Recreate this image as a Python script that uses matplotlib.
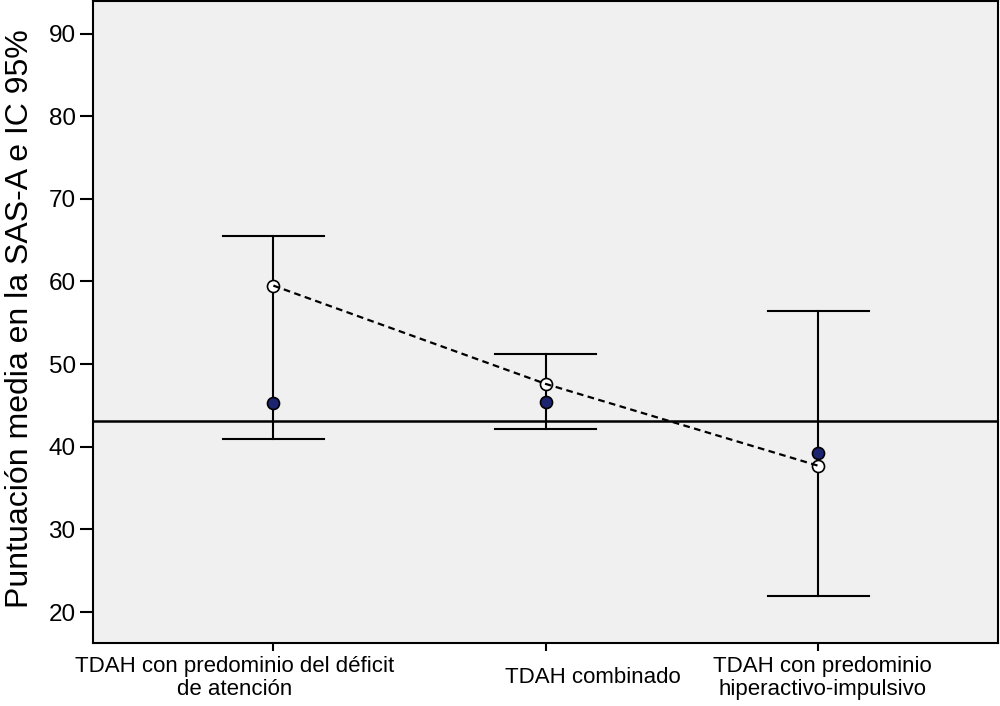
import matplotlib
matplotlib.use("Agg")
import matplotlib.pyplot as plt
import matplotlib.transforms as mtransforms
import numpy as np

categories = ["TDAH con predominio del déficit\nde atención", "TDAH combinado",
              "TDAH con predominio\nhiperactivo-impulsivo"]
means = [59.5, 47.6, 37.7]
ci_low = [40.9, 42.2, 22.0]
ci_high = [65.5, 51.2, 56.4]
other_points = [45.3, 45.4, 39.2]
ref_line = 43.1
yticks = [20, 30, 40, 50, 60, 70, 80, 90]

plt.rcParams['font.family'] = ['Liberation Sans', 'DejaVu Sans']

fig = plt.figure(figsize=(10, 7.06), dpi=100)
ax = fig.add_axes([0.093, 0.0892, 0.905, 0.909])
ax.set_facecolor('#f0f0f0')

x = np.arange(len(categories))
cap = 0.185
for xi, lo, hi in zip(x, ci_low, ci_high):
    ax.plot([xi, xi], [lo, hi], color='black', lw=1.5, zorder=2)
    ax.plot([xi - cap, xi + cap], [lo, lo], color='black', lw=1.5, zorder=2)
    ax.plot([xi - cap, xi + cap], [hi, hi], color='black', lw=1.5, zorder=2)

ax.axhline(ref_line, color='black', lw=1.8, zorder=2)

ax.scatter(x, other_points, s=75, color='#1c2470', edgecolor='black', linewidth=1.2, zorder=3)
ax.scatter(x, means, s=75, color='white', edgecolor='black', linewidth=1.2, zorder=3)
ax.plot(x, means, color='black', lw=1.6, ls=(0, (3, 2)), zorder=4)

ax.set_xlim(-0.662, 2.66)
ax.set_ylim(16.25, 93.9)
ax.set_yticks(yticks)
ax.set_xticks(x)
ax.set_xticklabels(categories, fontsize=16)
ax.tick_params(axis='y', labelsize=17.5, length=9.5, width=1.5, direction='out', pad=3)
ax.tick_params(axis='x', length=6, width=1.5, direction='out', pad=19)
shifts_px = [-38.5, 47, 4]
for lbl, dx in zip(ax.get_xticklabels(), shifts_px):
    lbl.set_va('center')
    lbl.set_linespacing(1.15)
    lbl.set_transform(lbl.get_transform() +
                      mtransforms.ScaledTranslation(dx / 100, 0, fig.dpi_scale_trans))
for s in ax.spines.values():
    s.set_linewidth(1.5)
ax.set_ylabel("Puntuación media en la SAS-A e IC 95%", fontsize=23)
ax.yaxis.set_label_coords(-0.064, 0.506)

fig.savefig("out.png", dpi=100)
